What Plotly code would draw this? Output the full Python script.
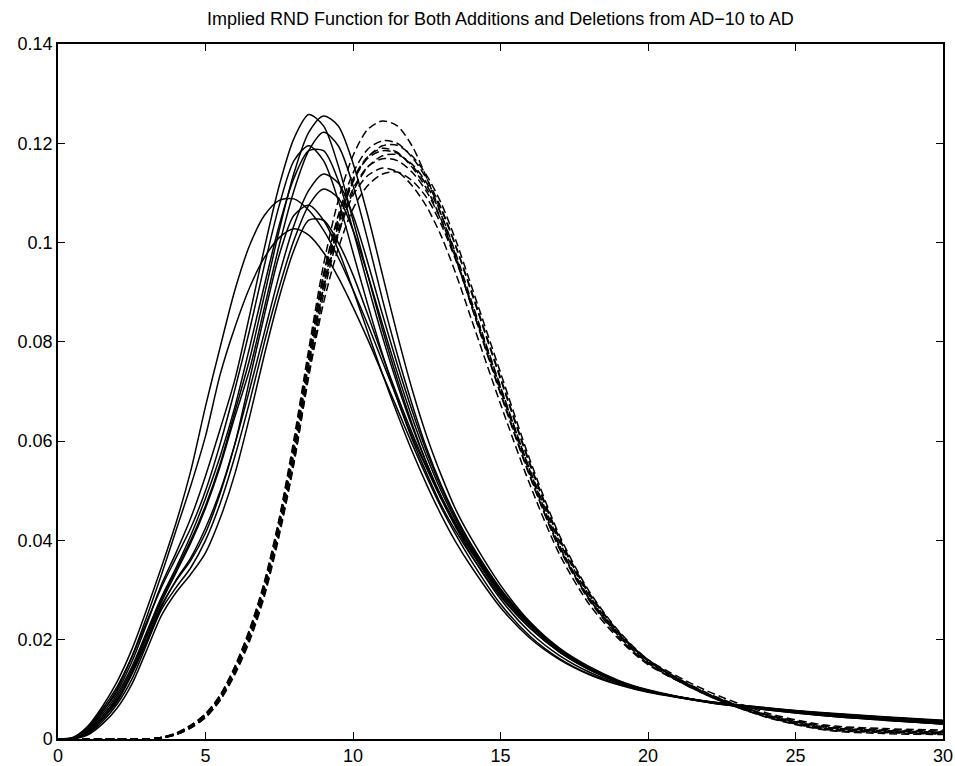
import plotly.graph_objects as go

X = [0, 0.5, 1, 1.5, 2, 2.5, 3, 3.5, 4, 4.5, 5, 5.5, 6, 6.5, 7, 7.5, 8, 8.5, 9, 9.5,
     10, 10.5, 11, 11.5, 12, 12.5, 13, 13.5, 14, 15, 16, 17, 18, 19, 20, 22, 24, 26, 28, 30]

# Solid curves (additions)
add_1 = [0, 0.0002, 0.002, 0.0055, 0.0095, 0.0155, 0.023, 0.031, 0.0375, 0.0445, 0.053, 0.0625, 0.0725, 0.0855, 0.099, 0.1115, 0.121, 0.1258, 0.1235, 0.1155,
         0.1045, 0.0935, 0.0825, 0.0725, 0.0635, 0.0555, 0.0485, 0.0428, 0.0378, 0.029, 0.0224, 0.0175, 0.014, 0.0114, 0.0096, 0.0075, 0.0061, 0.005, 0.0041, 0.0034]
add_2 = [0, 0.0001, 0.0015, 0.0045, 0.0085, 0.014, 0.021, 0.028, 0.034, 0.040, 0.047, 0.0555, 0.066, 0.0766, 0.0895, 0.1025, 0.114, 0.1222, 0.1255, 0.1235,
         0.116, 0.1055, 0.0935, 0.0815, 0.0705, 0.061, 0.053, 0.046, 0.0405, 0.031, 0.0236, 0.0183, 0.0146, 0.0118, 0.0099, 0.0075, 0.006, 0.0048, 0.0039, 0.003]
add_3 = [0, 0.0001, 0.0015, 0.0045, 0.008, 0.0135, 0.0205, 0.0275, 0.0335, 0.0395, 0.0465, 0.055, 0.065, 0.0745, 0.087, 0.0995, 0.1105, 0.1185, 0.1222, 0.1195,
         0.1115, 0.1005, 0.0885, 0.0775, 0.0675, 0.0585, 0.051, 0.0447, 0.0393, 0.0303, 0.0233, 0.0181, 0.0144, 0.0117, 0.0098, 0.0075, 0.006, 0.0048, 0.0039, 0.0031]
add_4 = [0, 0.0002, 0.0022, 0.006, 0.0105, 0.0165, 0.0235, 0.0305, 0.0365, 0.0425, 0.050, 0.0595, 0.0705, 0.0825, 0.0955, 0.1075, 0.1165, 0.1195, 0.1165, 0.1085,
         0.098, 0.0875, 0.0775, 0.0685, 0.0605, 0.0535, 0.047, 0.0417, 0.037, 0.0287, 0.0223, 0.0175, 0.014, 0.0115, 0.0097, 0.0075, 0.0061, 0.005, 0.0041, 0.0034]
add_5 = [0, 0.0002, 0.0018, 0.005, 0.009, 0.0145, 0.0215, 0.0285, 0.0345, 0.041, 0.0485, 0.057, 0.067, 0.079, 0.0915, 0.1035, 0.113, 0.1185, 0.1185, 0.1125,
         0.1025, 0.0915, 0.081, 0.0715, 0.063, 0.0555, 0.0488, 0.043, 0.038, 0.0294, 0.0228, 0.0178, 0.0142, 0.0116, 0.0097, 0.0075, 0.0061, 0.0049, 0.004, 0.0033]
add_6 = [0, 0.0001, 0.0012, 0.004, 0.0075, 0.013, 0.0195, 0.0265, 0.032, 0.0365, 0.0425, 0.050, 0.0595, 0.0705, 0.082, 0.0935, 0.1035, 0.1105, 0.1138, 0.112,
         0.1055, 0.096, 0.0855, 0.0755, 0.0662, 0.0578, 0.0505, 0.0443, 0.039, 0.0301, 0.0232, 0.018, 0.0143, 0.0116, 0.0097, 0.0074, 0.0059, 0.0047, 0.0038, 0.003]
add_7 = [0, 0.0001, 0.001, 0.0035, 0.007, 0.012, 0.019, 0.026, 0.0305, 0.0345, 0.040, 0.0475, 0.057, 0.068, 0.080, 0.091, 0.1005, 0.1075, 0.1108, 0.109,
         0.1025, 0.0935, 0.0835, 0.0738, 0.0648, 0.0568, 0.0498, 0.0438, 0.0386, 0.0299, 0.0231, 0.018, 0.0143, 0.0116, 0.0097, 0.0074, 0.0059, 0.0047, 0.0038, 0.003]
add_8 = [0, 0.0003, 0.0025, 0.0065, 0.0115, 0.018, 0.026, 0.0345, 0.0435, 0.054, 0.067, 0.079, 0.0905, 0.0995, 0.1055, 0.1085, 0.1088, 0.1065, 0.1025, 0.097,
         0.0905, 0.0835, 0.076, 0.0685, 0.061, 0.0545, 0.0482, 0.0425, 0.0372, 0.0282, 0.0215, 0.0168, 0.0135, 0.0112, 0.0096, 0.0076, 0.0063, 0.0052, 0.0044, 0.0037]
add_9 = [0, 0.0001, 0.0012, 0.004, 0.0078, 0.0132, 0.0198, 0.0268, 0.0318, 0.036, 0.0415, 0.0495, 0.0595, 0.0725, 0.0855, 0.0975, 0.1055, 0.1075, 0.1045, 0.0985,
         0.0905, 0.082, 0.0735, 0.0655, 0.058, 0.0512, 0.045, 0.0395, 0.0348, 0.0265, 0.0203, 0.016, 0.013, 0.0109, 0.0094, 0.0075, 0.0062, 0.0052, 0.0044, 0.0037]
add_10 = [0, 0, 0.0008, 0.003, 0.0062, 0.011, 0.0178, 0.0248, 0.0295, 0.0332, 0.0375, 0.0445, 0.0535, 0.065, 0.0775, 0.089, 0.0985, 0.1045, 0.1045, 0.1,
          0.0935, 0.0855, 0.0772, 0.0692, 0.0617, 0.0548, 0.0487, 0.0432, 0.0383, 0.0296, 0.0229, 0.0178, 0.0142, 0.0115, 0.0097, 0.0075, 0.0061, 0.005, 0.0041, 0.0034]
add_11 = [0, 0.0002, 0.002, 0.0055, 0.010, 0.0165, 0.0245, 0.033, 0.042, 0.051, 0.061, 0.0735, 0.083, 0.091, 0.097, 0.101, 0.1028, 0.1015, 0.098, 0.093,
          0.087, 0.0805, 0.0735, 0.0665, 0.0595, 0.0528, 0.0465, 0.041, 0.036, 0.0272, 0.0207, 0.0162, 0.0131, 0.011, 0.0095, 0.0076, 0.0063, 0.0053, 0.0045, 0.0038]

# Dashed curves (deletions)
del_1 = [0, 0, 0, 0, 0, 0, 0, 0.0003, 0.0011, 0.0027, 0.005, 0.0088, 0.0146, 0.022, 0.0318, 0.0445, 0.0605, 0.0785, 0.0955, 0.1085,
         0.1175, 0.1228, 0.1245, 0.1235, 0.1195, 0.113, 0.1055, 0.097, 0.0875, 0.0695, 0.0528, 0.0385, 0.0283, 0.0212, 0.016, 0.0097, 0.0053, 0.0028, 0.0021, 0.0018]
del_2 = [0, 0, 0, 0, 0, 0, 0, 0.0002, 0.001, 0.0025, 0.0047, 0.0083, 0.0138, 0.021, 0.0302, 0.043, 0.0578, 0.0765, 0.0935, 0.1055,
         0.114, 0.1188, 0.1205, 0.12, 0.1172, 0.1128, 0.1068, 0.099, 0.0902, 0.0725, 0.0552, 0.0402, 0.0292, 0.0215, 0.0158, 0.0092, 0.0049, 0.0024, 0.0017, 0.0014]
del_3 = [0, 0, 0, 0, 0, 0, 0, 0.0002, 0.0009, 0.0023, 0.0044, 0.0079, 0.0133, 0.0203, 0.0293, 0.0418, 0.0565, 0.0748, 0.0912, 0.1035,
         0.1122, 0.1172, 0.1195, 0.1196, 0.1175, 0.1135, 0.1078, 0.1002, 0.0915, 0.0738, 0.0562, 0.041, 0.0298, 0.0218, 0.016, 0.0091, 0.0047, 0.0022, 0.0015, 0.0012]
del_4 = [0, 0, 0, 0, 0, 0, 0, 0.0003, 0.0012, 0.0028, 0.0051, 0.0089, 0.0147, 0.0222, 0.0315, 0.0442, 0.0595, 0.0775, 0.0935, 0.1048,
         0.1128, 0.1173, 0.119, 0.1182, 0.1152, 0.1108, 0.1045, 0.0965, 0.0875, 0.0698, 0.053, 0.0383, 0.028, 0.0206, 0.0152, 0.0088, 0.0045, 0.0019, 0.0013, 0.001]
del_5 = [0, 0, 0, 0, 0, 0, 0, 0.0003, 0.0011, 0.0026, 0.0048, 0.0085, 0.0142, 0.0215, 0.031, 0.0435, 0.059, 0.0765, 0.0925, 0.104,
         0.1125, 0.117, 0.1185, 0.118, 0.1155, 0.1115, 0.1055, 0.0975, 0.0885, 0.071, 0.054, 0.039, 0.0285, 0.021, 0.0155, 0.009, 0.0047, 0.0021, 0.0015, 0.0012]
del_6 = [0, 0, 0, 0, 0, 0, 0, 0.0002, 0.0009, 0.0022, 0.0043, 0.0078, 0.013, 0.0198, 0.0288, 0.041, 0.0555, 0.0735, 0.0895, 0.1015,
         0.1102, 0.1152, 0.1175, 0.1177, 0.1158, 0.112, 0.1065, 0.099, 0.0905, 0.0728, 0.0555, 0.0405, 0.0295, 0.0216, 0.0158, 0.0089, 0.0044, 0.0018, 0.0011, 0.0009]
del_7 = [0, 0, 0, 0, 0, 0, 0, 0.0003, 0.001, 0.0025, 0.0047, 0.0084, 0.014, 0.0212, 0.0303, 0.0428, 0.0575, 0.0755, 0.091, 0.1025,
         0.1108, 0.1153, 0.1169, 0.1165, 0.1142, 0.1102, 0.1043, 0.0965, 0.0878, 0.0703, 0.0535, 0.0388, 0.0283, 0.0208, 0.0153, 0.0088, 0.0045, 0.002, 0.0014, 0.0011]
del_8 = [0, 0, 0, 0, 0, 0, 0, 0.0003, 0.0011, 0.0027, 0.005, 0.0088, 0.0145, 0.0218, 0.031, 0.0435, 0.0582, 0.0758, 0.0908, 0.1018,
         0.1095, 0.1135, 0.115, 0.1143, 0.1115, 0.1072, 0.1012, 0.0935, 0.0848, 0.0675, 0.0512, 0.0372, 0.0272, 0.0202, 0.015, 0.009, 0.005, 0.0026, 0.0019, 0.0016]
del_9 = [0, 0, 0, 0, 0, 0, 0, 0.0002, 0.0009, 0.0023, 0.0044, 0.008, 0.0134, 0.0204, 0.0293, 0.0415, 0.0558, 0.073, 0.0878, 0.0988,
         0.1068, 0.1115, 0.1138, 0.1142, 0.1125, 0.109, 0.1035, 0.0962, 0.088, 0.0708, 0.0542, 0.0397, 0.029, 0.0213, 0.0157, 0.0093, 0.0049, 0.0024, 0.0017, 0.0014]

additions = [add_1, add_2, add_3, add_4, add_5, add_6, add_7, add_8, add_9, add_10, add_11]
deletions = [del_1, del_2, del_3, del_4, del_5, del_6, del_7, del_8, del_9]

x_ticks = [0, 5, 10, 15, 20, 25, 30]
y_ticks = [0, 0.02, 0.04, 0.06, 0.08, 0.1, 0.12, 0.14]
y_tick_text = ["0", "0.02", "0.04", "0.06", "0.08", "0.1", "0.12", "0.14"]

title_text = "Implied RND Function for Both Additions and Deletions from AD\u221210 to AD"
FONT = "Liberation Sans, Arial, Helvetica, sans-serif"

fig = go.Figure()
for ys in deletions:
    fig.add_trace(go.Scatter(x=X, y=ys, mode="lines",
                             line=dict(color="black", width=1.5, dash="8px,4px", shape="spline", smoothing=0.8),
                             showlegend=False, hoverinfo="skip"))
for ys in additions:
    fig.add_trace(go.Scatter(x=X, y=ys, mode="lines",
                             line=dict(color="black", width=1.5, shape="spline", smoothing=0.8),
                             showlegend=False, hoverinfo="skip"))

axis_common = dict(showgrid=False, zeroline=False, showline=True, linecolor="black", linewidth=1.5,
                   mirror="ticks", ticks="inside", ticklen=7, tickwidth=1.2, tickcolor="black",
                   tickfont=dict(family=FONT, size=18, color="black"))

fig.update_xaxes(range=[0, 30], tickvals=x_ticks, ticktext=[str(v) for v in x_ticks], **axis_common)
fig.update_yaxes(range=[0, 0.14], tickvals=y_ticks, ticktext=y_tick_text, **axis_common)

fig.update_layout(
    width=955, height=766,
    margin=dict(l=58, r=12, t=44, b=27, autoexpand=False),
    paper_bgcolor="white", plot_bgcolor="white",
    title=dict(text=title_text, x=0.524, xanchor="center", y=0.976, yanchor="middle",
               font=dict(family=FONT, size=18, color="black")),
)

fig.write_html("out.html")
